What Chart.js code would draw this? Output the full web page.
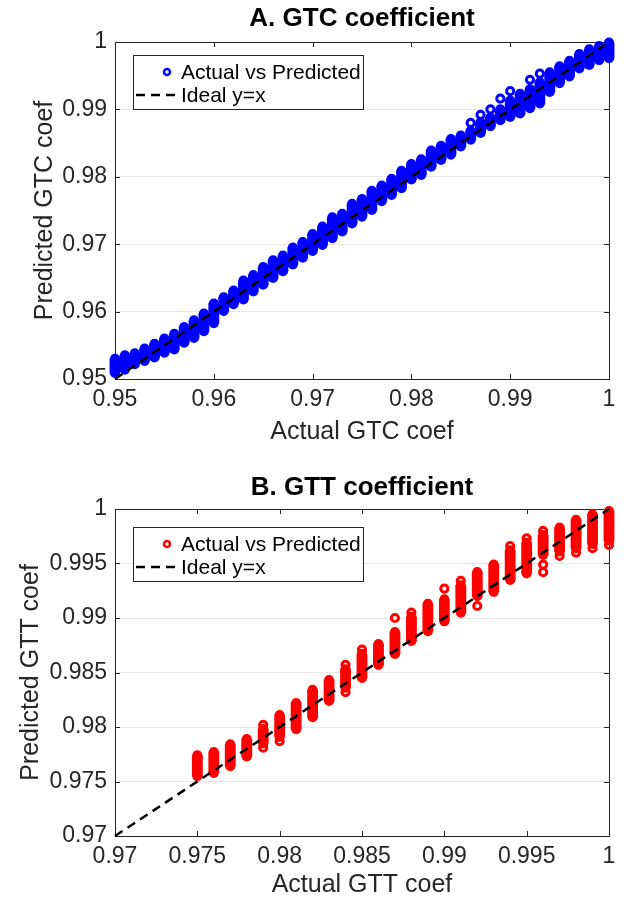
<!DOCTYPE html>
<html>
<head>
<meta charset="utf-8">
<title>GTC / GTT coefficient</title>
<script src="https://cdn.jsdelivr.net/npm/chart.js@4.4.1/dist/chart.umd.min.js"></script>
<style>
  html, body { margin: 0; padding: 0; background: #fff; }
  canvas { display: block; }
</style>
</head>
<body>
<canvas id="gtcChart" width="624" height="451"></canvas>
<canvas id="gttChart" width="624" height="452"></canvas>
<script>
// --- A. GTC coefficient: actual values and the spread of predictions at each one
const gtcActual = [0.950, 0.951, 0.952, 0.953, 0.954, 0.955, 0.956, 0.957, 0.958, 0.959,
                   0.960, 0.961, 0.962, 0.963, 0.964, 0.965, 0.966, 0.967, 0.968, 0.969,
                   0.970, 0.971, 0.972, 0.973, 0.974, 0.975, 0.976, 0.977, 0.978, 0.979,
                   0.980, 0.981, 0.982, 0.983, 0.984, 0.985, 0.986, 0.987, 0.988, 0.989,
                   0.990, 0.991, 0.992, 0.993, 0.994, 0.995, 0.996, 0.997, 0.998, 0.999, 1.000];
const gtcPredLow = [0.9509, 0.9514, 0.9522, 0.9527, 0.9532, 0.9539, 0.9544, 0.9554, 0.9561, 0.9571,
                    0.9583, 0.9601, 0.9611, 0.9618, 0.9630, 0.9640, 0.9650, 0.9660, 0.9670, 0.9680,
                    0.9690, 0.9699, 0.9709, 0.9719, 0.9731, 0.9741, 0.9751, 0.9764, 0.9773, 0.9783,
                    0.9796, 0.9803, 0.9815, 0.9825, 0.9833, 0.9845, 0.9855, 0.9865, 0.9875, 0.9884,
                    0.9889, 0.9894, 0.9902, 0.9909, 0.9926, 0.9939, 0.9949, 0.9961, 0.9966, 0.9973, 0.9976];
const gtcPredHigh = [0.9530, 0.9535, 0.9538, 0.9545, 0.9552, 0.9560, 0.9567, 0.9577, 0.9587, 0.9597,
                     0.9612, 0.9621, 0.9631, 0.9646, 0.9654, 0.9666, 0.9676, 0.9683, 0.9695, 0.9703,
                     0.9715, 0.9726, 0.9740, 0.9745, 0.9760, 0.9767, 0.9779, 0.9787, 0.9797, 0.9809,
                     0.9819, 0.9826, 0.9839, 0.9846, 0.9856, 0.9861, 0.9868, 0.9881, 0.9888, 0.9900,
                     0.9913, 0.9923, 0.9930, 0.9940, 0.9955, 0.9964, 0.9972, 0.9982, 0.9989, 0.9994, 0.9999];
// single circles that stand out from the clusters
const gtcOutActual = [0.986, 0.987, 0.988, 0.989, 0.990, 0.992, 0.993];
const gtcOutPred   = [0.9880, 0.9892, 0.9900, 0.9916, 0.9927, 0.9944, 0.9953];
const gtcTicks = [0.95, 0.96, 0.97, 0.98, 0.99, 1];

// --- B. GTT coefficient
const gttActual = [0.975, 0.976, 0.977, 0.978, 0.979, 0.980, 0.981, 0.982, 0.983, 0.984,
                   0.985, 0.986, 0.987, 0.988, 0.989, 0.990, 0.991, 0.992, 0.993, 0.994,
                   0.995, 0.996, 0.997, 0.998, 0.999, 1.000];
const gttPredLow = [0.9755, 0.9758, 0.9764, 0.9773, 0.9785, 0.9791, 0.9798, 0.9809, 0.9824, 0.9836,
                    0.9845, 0.9857, 0.9867, 0.9879, 0.9888, 0.9897, 0.9905, 0.9920, 0.9924, 0.9935,
                    0.9941, 0.9958, 0.9961, 0.9964, 0.9968, 0.9971];
const gttPredHigh = [0.9774, 0.9777, 0.9784, 0.9789, 0.9798, 0.9811, 0.9822, 0.9834, 0.9843, 0.9853,
                     0.9867, 0.9876, 0.9887, 0.9901, 0.9913, 0.9917, 0.9930, 0.9942, 0.9949, 0.9962,
                     0.9969, 0.9976, 0.9983, 0.9990, 0.9995, 0.9998];
const gttOutActual = [0.987, 0.990, 0.992, 0.996, 0.996,
                      0.979, 0.980, 0.984, 0.997, 0.998, 0.999, 1.000,
                      0.979, 0.984, 0.985, 0.988, 0.991, 0.994, 0.995, 0.996];
const gttOutPred   = [0.9900, 0.9927, 0.9911, 0.9949, 0.9942,
                      0.9781, 0.9787, 0.9832, 0.9957, 0.9960, 0.9964, 0.9967,
                      0.9802, 0.9857, 0.9871, 0.9905, 0.9934, 0.9966, 0.9973, 0.9980];
const gttTicks = [0.97, 0.975, 0.98, 0.985, 0.99, 0.995, 1];

const FONT = "'Liberation Sans', Arial, Helvetica, sans-serif";
Chart.defaults.font.family = FONT;

const AXIS_COLOR = '#262626';

// box around the plot area + short inward ticks on all four sides (matlab style)
const frameTicks = {
  id: 'frameTicks',
  beforeDatasetsDraw(chart) {
    const { ctx, chartArea: a, scales } = chart;
    const len = 5;
    ctx.save();
    ctx.strokeStyle = AXIS_COLOR;
    ctx.lineWidth = 1;
    ctx.beginPath();
    scales.x.ticks.forEach(t => {
      const px = Math.round(scales.x.getPixelForValue(t.value)) + 0.5;
      ctx.moveTo(px, a.bottom); ctx.lineTo(px, a.bottom - len);
      ctx.moveTo(px, a.top); ctx.lineTo(px, a.top + len);
    });
    scales.y.ticks.forEach(t => {
      const py = Math.round(scales.y.getPixelForValue(t.value)) + 0.5;
      ctx.moveTo(a.left, py); ctx.lineTo(a.left + len, py);
      ctx.moveTo(a.right, py); ctx.lineTo(a.right - len, py);
    });
    ctx.stroke();
    ctx.strokeRect(Math.round(a.left) + 0.5, Math.round(a.top) + 0.5,
                   Math.round(a.right - a.left), Math.round(a.bottom - a.top));
    ctx.restore();
  }
};

// title centred over the axes, not over the whole canvas
const axesTitle = {
  id: 'axesTitle',
  afterDraw(chart, args, opts) {
    const { ctx, chartArea: a } = chart;
    ctx.save();
    ctx.fillStyle = '#000';
    ctx.font = 'bold 26px ' + FONT;
    ctx.textAlign = 'center';
    ctx.textBaseline = 'middle';
    ctx.fillText(opts.text, (a.left + a.right) / 2, opts.y);
    ctx.restore();
  }
};

// legend in a white box, top left inside the axes
const boxLegend = {
  id: 'boxLegend',
  afterDraw(chart, args, opts) {
    const { ctx } = chart;
    const items = chart.data.datasets.filter(d => d.legendIndex !== undefined)
      .sort((p, q) => p.legendIndex - q.legendIndex);
    ctx.save();
    ctx.fillStyle = '#fff';
    ctx.fillRect(opts.left, opts.top, opts.width, opts.height);
    ctx.strokeStyle = AXIS_COLOR;
    ctx.lineWidth = 1;
    ctx.strokeRect(opts.left + 0.5, opts.top + 0.5, opts.width, opts.height);
    items.forEach((d, i) => {
      const y = opts.top + 17 + i * 23;
      if (d.type === 'line') {
        ctx.strokeStyle = d.borderColor;
        ctx.lineWidth = d.borderWidth;
        ctx.setLineDash(d.borderDash);
        ctx.beginPath();
        ctx.moveTo(opts.left + 3, y);
        ctx.lineTo(opts.left + 45, y);
        ctx.stroke();
        ctx.setLineDash([]);
      } else {
        ctx.strokeStyle = d.borderColor;
        ctx.lineWidth = 2.5;
        ctx.beginPath();
        ctx.arc(opts.left + 34, y, 3, 0, Math.PI * 2);
        ctx.stroke();
      }
      ctx.fillStyle = '#000';
      ctx.font = '21px ' + FONT;
      ctx.textBaseline = 'middle';
      ctx.textAlign = 'left';
      ctx.fillText(d.label, opts.left + 48, y + 1);
    });
    ctx.restore();
  }
};

function buildChart(id, o) {
  // the two end circles of each cluster, and the stray ones
  const ends = o.actual.flatMap((x, i) => [{ x, y: o.low[i] }, { x, y: o.high[i] }]);
  const strays = o.outActual.map((x, i) => ({ x, y: o.outPred[i] }));
  const last = o.ticks[o.ticks.length - 1];

  return new Chart(document.getElementById(id), {
    type: 'scatter',
    data: {
      datasets: [
        {
          // legend entry takes its colour/marker from here
          type: 'scatter', label: 'Actual vs Predicted', legendIndex: 0,
          data: ends,
          borderColor: o.color, backgroundColor: o.color,
          pointRadius: 3.6, borderWidth: 3, order: 2, clip: false
        },
        {
          type: 'scatter', label: 'strays',
          data: strays,
          borderColor: o.color, backgroundColor: 'rgba(0,0,0,0)',
          pointRadius: 3.6, borderWidth: 3, order: 3, clip: false
        },
        {
          // dense run of overlapping circles between low and high prediction
          type: 'bar', label: 'spread',
          data: o.actual.map((x, i) => ({ x, y: [o.low[i], o.high[i]] })),
          backgroundColor: o.color, borderWidth: 0, borderSkipped: false,
          barThickness: 10.2, order: 1, clip: false
        },
        {
          type: 'line', label: 'Ideal y=x', legendIndex: 1,
          data: [{ x: o.ticks[0], y: o.ticks[0] }, { x: last, y: last }],
          borderColor: '#000', borderWidth: 2.5, borderDash: [9, 6],
          pointRadius: 0, fill: false, order: 0, clip: false
        }
      ]
    },
    options: {
      responsive: false,
      animation: false,
      devicePixelRatio: 1,
      events: [],
      layout: { padding: { left: 0, right: 15, top: o.topSpace, bottom: 0 } },
      plugins: {
        legend: { display: false },
        tooltip: { enabled: false },
        title: { display: false },
        axesTitle: { text: o.title, y: o.titleY },
        boxLegend: o.legendBox
      },
      scales: {
        x: {
          type: 'linear', min: o.ticks[0], max: last, offset: false,
          afterBuildTicks: s => { s.ticks = o.ticks.map(v => ({ value: v })); },
          afterFit: s => { s.height = o.xAxisHeight; },
          grid: { display: false, drawTicks: false },
          border: { display: false },
          ticks: { padding: 7, color: AXIS_COLOR, font: { size: 23 }, maxRotation: 0, autoSkip: false,
                   callback: v => String(v) },
          title: { display: true, text: o.xTitle, color: AXIS_COLOR, font: { size: 25 },
                   padding: { top: 0, bottom: o.xTitlePad } }
        },
        y: {
          type: 'linear', min: o.ticks[0], max: last,
          afterBuildTicks: s => { s.ticks = o.ticks.map(v => ({ value: v })); },
          afterFit: s => { s.width = 115; },
          grid: { display: true, color: '#e6e6e6', drawTicks: false },
          border: { display: false },
          ticks: { padding: 8, color: AXIS_COLOR, font: { size: 23 }, autoSkip: false,
                   callback: v => String(v) },
          title: { display: true, text: o.yTitle, color: AXIS_COLOR, font: { size: 25 },
                   padding: { top: o.yTitlePad, bottom: 0 } }
        }
      }
    },
    plugins: [frameTicks, boxLegend, axesTitle]
  });
}

buildChart('gtcChart', {
  actual: gtcActual, low: gtcPredLow, high: gtcPredHigh,
  outActual: gtcOutActual, outPred: gtcOutPred, ticks: gtcTicks,
  color: '#0000ff',
  title: 'A. GTC coefficient', xTitle: 'Actual GTC coef', yTitle: 'Predicted GTC coef',
  topSpace: 42, titleY: 19, xAxisHeight: 72, xTitlePad: 4, yTitlePad: 30,
  legendBox: { left: 133, top: 55, width: 230, height: 54 }
});

buildChart('gttChart', {
  actual: gttActual, low: gttPredLow, high: gttPredHigh,
  outActual: gttOutActual, outPred: gttOutPred, ticks: gttTicks,
  color: '#ff0000',
  title: 'B. GTT coefficient', xTitle: 'Actual GTT coef', yTitle: 'Predicted GTT coef',
  topSpace: 58, titleY: 37, xAxisHeight: 67, xTitlePad: 3, yTitlePad: 16,
  legendBox: { left: 133, top: 76, width: 230, height: 54 }
});
</script>
</body>
</html>
